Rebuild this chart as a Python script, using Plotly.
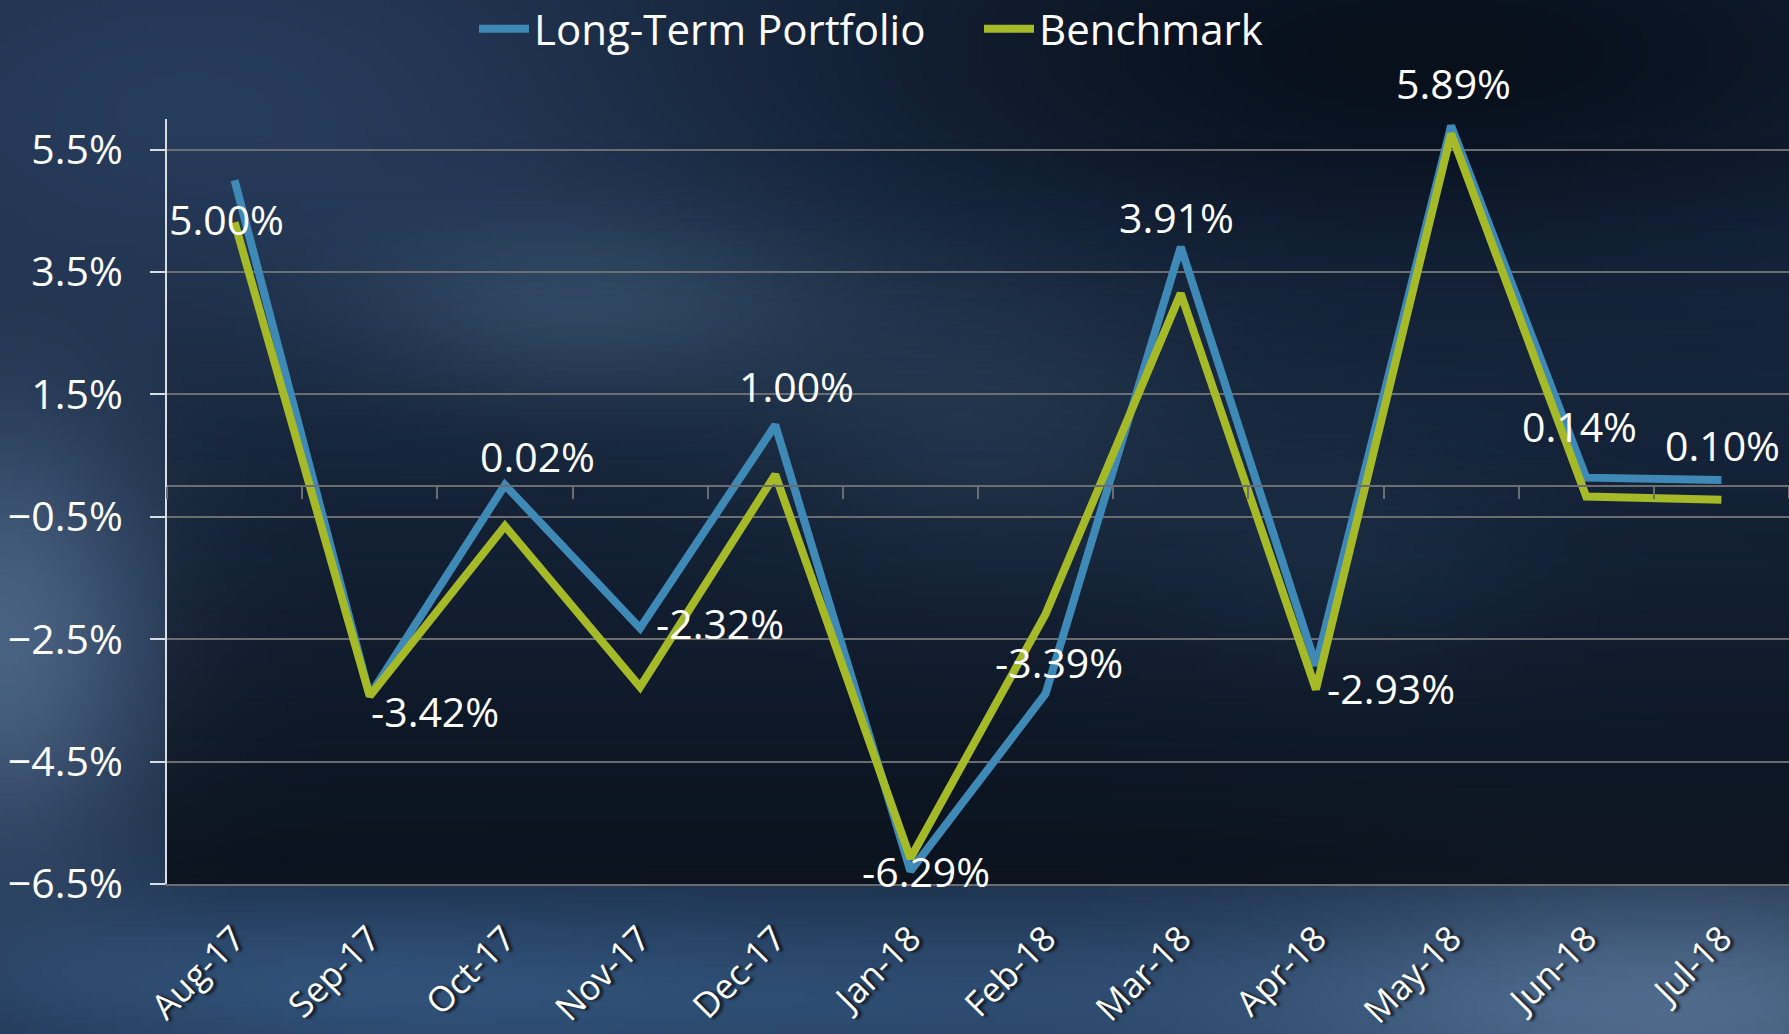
import base64
import struct
import zlib

import numpy as np
import plotly.graph_objects as go

# monthly returns, in percent
months = ['Aug-17', 'Sep-17', 'Oct-17', 'Nov-17', 'Dec-17', 'Jan-18',
          'Feb-18', 'Mar-18', 'Apr-18', 'May-18', 'Jun-18', 'Jul-18']
portfolio = [5.00, -3.42, 0.02, -2.32, 1.00, -6.29, -3.39, 3.91, -2.93, 5.89, 0.14, 0.10]
benchmark = [4.31, -3.43, -0.65, -3.28, 0.19, -6.08, -2.09, 3.15, -3.32, 5.76, -0.17, -0.22]

W, H = 1789, 1034
ML, MR, MT, MB = 167, 0, 119, 150
YMIN, YMAX = -6.5, 6.0

FONT = 'Open Sans, sans-serif'
BLUE = '#3e89b6'
GREEN = '#a6ba27'
GRID = '#6b6d70'


def png_uri(arr):
    h, w, c = arr.shape
    raw = b''.join(b'\x00' + arr[r].tobytes() for r in range(h))

    def chunk(tag, data):
        return (struct.pack('>I', len(data)) + tag + data
                + struct.pack('>I', zlib.crc32(tag + data) & 0xffffffff))

    ctype = 2 if c == 3 else 6
    png = (b'\x89PNG\r\n\x1a\n'
           + chunk(b'IHDR', struct.pack('>IIBBBBB', w, h, 8, ctype, 0, 0, 0))
           + chunk(b'IDAT', zlib.compress(raw, 9))
           + chunk(b'IEND', b''))
    return 'data:image/png;base64,' + base64.b64encode(png).decode()


def background():
    # smoky dark-blue backdrop made of soft blobs
    bw, bh = 360, 208
    u, v = np.meshgrid(np.linspace(0, 1, bw), np.linspace(0, 1, bh))
    img = np.zeros((bh, bw, 3)) + np.array([26, 44, 70])
    blobs = [
        (0.00, 0.62, 0.09, 0.22, (48, 54, 60)),
        (0.12, 0.10, 0.25, 0.20, (14, 16, 22)),
        (0.80, 0.05, 0.35, 0.20, (-18, -28, -42)),
        (0.33, 0.30, 0.14, 0.10, (25, 32, 35)),
        (0.55, 0.42, 0.12, 0.15, (15, 20, 22)),
        (0.95, 0.98, 0.22, 0.14, (48, 54, 58)),
        (0.50, 0.97, 0.40, 0.10, (18, 30, 40)),
        (0.15, 0.95, 0.22, 0.09, (14, 22, 30)),
        (0.75, 0.55, 0.10, 0.12, (10, 16, 20)),
    ]
    for cu, cv, su, sv, col in blobs:
        g = np.exp(-(((u - cu) / su) ** 2 + ((v - cv) / sv) ** 2))
        img += g[..., None] * np.array(col)
    return np.clip(img, 0, 255).astype(np.uint8)


def plot_shade():
    # darkening towards the bottom of the plot area
    t = np.linspace(0, 1, 120)
    a = (0.78 * t ** 1.4 * 255).astype(np.uint8)
    img = np.zeros((120, 4, 4), dtype=np.uint8)
    img[..., 0], img[..., 1], img[..., 2] = 6, 10, 16
    img[..., 3] = a[:, None]
    return img


pw, ph = W - ML - MR, H - MT - MB

fig = go.Figure()
fig.add_trace(go.Scatter(x=months, y=portfolio, name='Long-Term Portfolio', mode='lines',
                         line=dict(color=BLUE, width=8)))
fig.add_trace(go.Scatter(x=months, y=benchmark, name='Benchmark', mode='lines',
                         line=dict(color=GREEN, width=8), xaxis='x2'))

# data labels for the portfolio line
label_dx = [-8, 65, 33, 80, 21, 16, 13, -4, 75, 2, -7, 1]
label_dy = [39, 15, -29, -5, -39, 0, -32, -30, 22, -43, -52, -35]
for m, val, dx, dy in zip(months, portfolio, label_dx, label_dy):
    fig.add_annotation(x=m, y=val, text=f'{val:.2f}%', showarrow=False,
                       xshift=dx, yshift=-dy,
                       font=dict(family=FONT, size=41, color='white'))

fig.add_layout_image(source=png_uri(background()), xref='paper', yref='paper',
                     x=-ML / pw, y=1 + MT / ph, sizex=W / pw, sizey=H / ph,
                     sizing='stretch', layer='below')
fig.add_layout_image(source=png_uri(plot_shade()), xref='paper', yref='paper',
                     x=0, y=1, sizex=1, sizey=1, sizing='stretch', layer='below')

fig.update_layout(
    width=W, height=H,
    margin=dict(l=ML, r=MR, t=MT, b=MB, autoexpand=False),
    paper_bgcolor='#1a2c46',
    plot_bgcolor='rgba(0,0,0,0)',
    font=dict(family=FONT, size=41, color='white'),
    showlegend=True,
    legend=dict(orientation='h', x=(474 - ML) / pw, xanchor='left', y=1 + 90 / ph, yanchor='middle',
                font=dict(family=FONT, size=42, color='white'),
                bgcolor='rgba(0,0,0,0)', itemwidth=50,
                entrywidth=440, entrywidthmode='pixels'),
    xaxis=dict(type='category', categoryarray=months, range=[-0.5, 11.5], automargin=False,
               showgrid=False, zeroline=False, showline=True, linecolor=GRID, linewidth=2,
               ticks='', tickangle=-45, ticklabelstandoff=18,
               tickfont=dict(family=FONT, size=35, color='white',
                             shadow='2px 3px 3px rgba(0,0,0,0.8)')),
    xaxis2=dict(type='category', categoryarray=months, range=[-0.5, 11.5], overlaying='x',
                anchor='free', position=(0 - YMIN) / (YMAX - YMIN), side='bottom',
                showgrid=False, zeroline=False, showline=True, linecolor=GRID, linewidth=2,
                ticks='outside', ticklen=12, tickwidth=2, tickcolor=GRID,
                tickson='boundaries', showticklabels=False),
    yaxis=dict(range=[YMIN, YMAX], tick0=-6.5, dtick=2, ticksuffix='%', tickformat='.1f',
               automargin=False,
               showgrid=True, gridcolor=GRID, gridwidth=2, zeroline=False,
               showline=True, linecolor='#d9dde2', linewidth=2,
               ticks='outside', ticklen=15, tickwidth=2, tickcolor='#d9dde2',
               ticklabelstandoff=19,
               tickfont=dict(family=FONT, size=41, color='white')),
)

fig.write_html('out.html', config={'displayModeBar': False},
               post_script="document.body.style.margin='0';document.body.style.overflow='hidden';")
